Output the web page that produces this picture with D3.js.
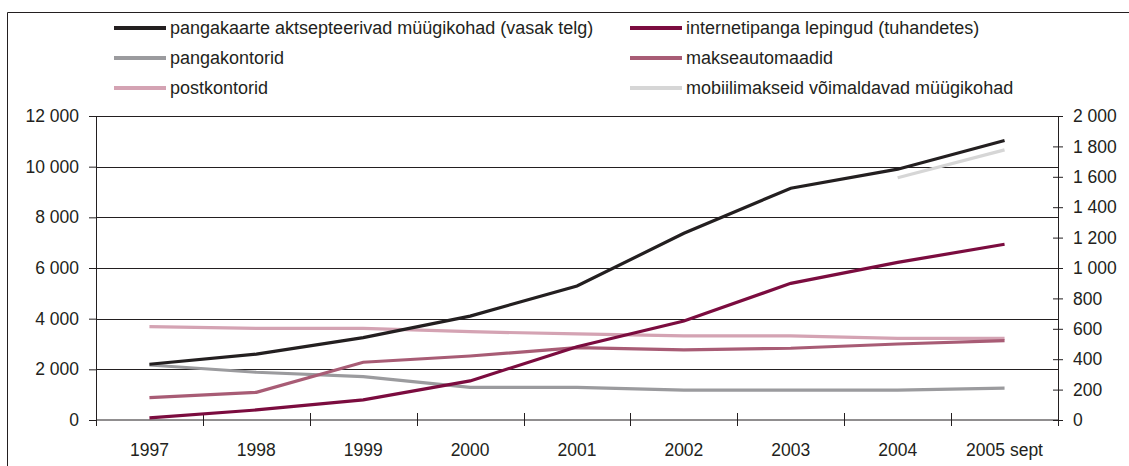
<!DOCTYPE html>
<html>
<head>
<meta charset="utf-8">
<script src="https://cdn.jsdelivr.net/npm/d3@7"></script>
<style>
  body { margin: 0; background: #fff; }
  text { font-family: "Liberation Sans", Arial, sans-serif; fill: #231f20; }
</style>
</head>
<body>
<script>
// years on the x axis
var years = ["1997", "1998", "1999", "2000", "2001", "2002", "2003", "2004", "2005 sept"];

// left axis series
var kaardiMuugikohad = [2200, 2600, 3250, 4100, 5290, 7370, 9150, 9900, 11030];

// right axis series
var internetipank = [14, 66, 132, 257, 482, 651, 899, 1037, 1156];
var pangakontorid = [362, 314, 285, 215, 215, 197, 197, 197, 210];
var makseautomaadid = [147, 182, 380, 421, 476, 461, 472, 500, 522];
var postkontorid = [614, 603, 603, 581, 566, 553, 553, 537, 537];
var mobiili = [null, null, null, null, null, null, null, 1594, 1777];

var leftTicks = [0, 2000, 4000, 6000, 8000, 10000, 12000];
var rightTicks = [0, 200, 400, 600, 800, 1000, 1200, 1400, 1600, 1800, 2000];

var W = 1129, H = 466;
var plotLeft = 96, plotRight = 1058, plotTop = 116, plotBottom = 420;
var axisFont = "17.5px", legendFont = "18px";

var svg = d3.select("body").append("svg")
    .attr("width", W)
    .attr("height", H);

// outer frame (runs off right and bottom)
svg.append("path")
    .attr("d", "M7.5," + H + "V12.5H" + W)
    .attr("fill", "none")
    .attr("stroke", "#231f20")
    .attr("stroke-width", 1);

var x = d3.scaleBand().domain(years).range([plotLeft, plotRight]).padding(0),
    yL = d3.scaleLinear().domain([0, 12000]).range([plotBottom, plotTop]),
    yR = d3.scaleLinear().domain([0, 2000]).range([plotBottom, plotTop]);

var fmt = d3.formatLocale({decimal: ",", thousands: " ", grouping: [3], currency: ["", ""]}).format(",");

// gridlines
svg.append("g").selectAll("line")
    .data(leftTicks.slice(1))
    .enter().append("line")
      .attr("x1", plotLeft).attr("x2", plotRight)
      .attr("y1", function(d) { return Math.round(yL(d)) + 0.5; })
      .attr("y2", function(d) { return Math.round(yL(d)) + 0.5; })
      .attr("stroke", "#231f20")
      .attr("stroke-width", 1);

function styleAxis(g) {
  g.selectAll("path, line").attr("stroke", "#231f20");
  g.selectAll("text").style("font-size", axisFont).attr("fill", "#231f20")
    .style("font-family", "'Liberation Sans', Arial, sans-serif");
}

svg.append("g")
    .attr("transform", "translate(" + plotLeft + ",0)")
    .call(d3.axisLeft(yL).tickValues(leftTicks).tickFormat(fmt).tickSizeInner(7).tickSizeOuter(0).tickPadding(10))
    .call(styleAxis);

svg.append("g")
    .attr("transform", "translate(" + plotRight + ",0)")
    .call(d3.axisRight(yR).tickValues(rightTicks).tickFormat(fmt).tickSizeInner(0).tickSizeOuter(0).tickPadding(15))
    .call(styleAxis)
    .call(function(g) {
      g.selectAll(".tick").append("line")
        .attr("x1", -5).attr("x2", 5).attr("stroke", "#231f20");
    });

// x axis: ticks at band edges, crossing the line
var xAxis = svg.append("g")
    .attr("transform", "translate(0," + plotBottom + ")");
xAxis.append("line")
    .attr("x1", plotLeft).attr("x2", plotRight)
    .attr("stroke", "#231f20");
xAxis.selectAll(".edge")
    .data(years)
    .enter().append("line")
      .attr("class", "edge")
      .attr("x1", function(d) { return Math.round(x(d)) + 0.5; })
      .attr("x2", function(d) { return Math.round(x(d)) + 0.5; })
      .attr("y1", -7).attr("y2", 6)
      .attr("stroke", "#231f20");
xAxis.append("line")
    .attr("x1", plotRight + 0.5).attr("x2", plotRight + 0.5)
    .attr("y1", 0).attr("y2", 6)
    .attr("stroke", "#231f20");
xAxis.selectAll(".lbl")
    .data(years)
    .enter().append("text")
      .attr("class", "lbl")
      .attr("x", function(d) { return x(d) + x.bandwidth() / 2; })
      .attr("y", 36)
      .attr("text-anchor", "middle")
      .style("font-size", axisFont)
      .text(function(d) { return d; });

var series = [
  {name: "pangakontorid", values: pangakontorid, y: yR, color: "#9b9b9e"},
  {name: "postkontorid", values: postkontorid, y: yR, color: "#d4a3b3"},
  {name: "makseautomaadid", values: makseautomaadid, y: yR, color: "#a85c75"},
  {name: "mobiilimakseid võimaldavad müügikohad", values: mobiili, y: yR, color: "#d6d6d6"},
  {name: "internetipanga lepingud (tuhandetes)", values: internetipank, y: yR, color: "#7b0c3f"},
  {name: "pangakaarte aktsepteerivad müügikohad (vasak telg)", values: kaardiMuugikohad, y: yL, color: "#231f20"}
];

series.forEach(function(s) {
  var line = d3.line()
      .defined(function(d) { return d != null; })
      .x(function(d, i) { return x(years[i]) + x.bandwidth() / 2; })
      .y(function(d) { return s.y(d); });
  svg.append("path")
      .datum(s.values)
      .attr("d", line)
      .attr("fill", "none")
      .attr("stroke", s.color)
      .attr("stroke-width", 3.2);
});

// legend
var legendItems = [
  {name: "pangakaarte aktsepteerivad müügikohad (vasak telg)", color: "#231f20", col: 0, row: 0},
  {name: "pangakontorid", color: "#9b9b9e", col: 0, row: 1},
  {name: "postkontorid", color: "#d4a3b3", col: 0, row: 2},
  {name: "internetipanga lepingud (tuhandetes)", color: "#7b0c3f", col: 1, row: 0},
  {name: "makseautomaadid", color: "#a85c75", col: 1, row: 1},
  {name: "mobiilimakseid võimaldavad müügikohad", color: "#d6d6d6", col: 1, row: 2}
];
var colX = [114, 630];

var lg = svg.selectAll(".legend")
    .data(legendItems)
    .enter().append("g")
      .attr("class", "legend")
      .attr("transform", function(d) { return "translate(" + colX[d.col] + "," + (28 + d.row * 30) + ")"; });
lg.append("line")
    .attr("x1", 0).attr("x2", 52)
    .attr("stroke", function(d) { return d.color; })
    .attr("stroke-width", 4);
lg.append("text")
    .attr("x", 56)
    .attr("dy", "0.35em")
    .style("font-size", legendFont)
    .text(function(d) { return d.name; });
</script>
</body>
</html>
